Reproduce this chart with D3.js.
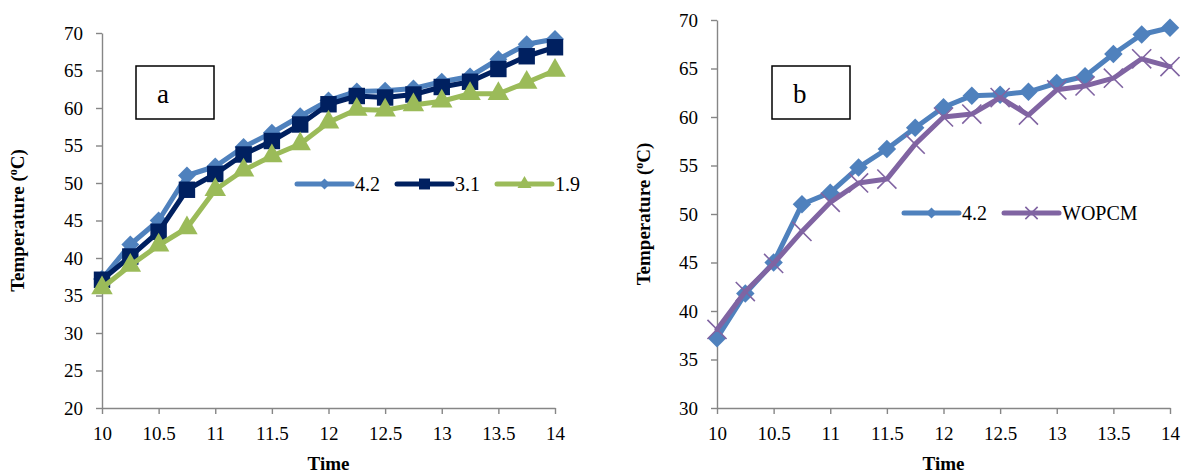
<!DOCTYPE html>
<html>
<head>
<meta charset="utf-8">
<script src="https://cdn.jsdelivr.net/npm/d3@7"></script>
<style>
  html, body { margin: 0; padding: 0; background: #fff; }
  svg { display: block; }
  svg text { font-family: "Liberation Serif", "Times New Roman", serif !important; fill: #000; }
</style>
</head>
<body>
<svg id="chart" width="1184" height="473"></svg>
<script>
// ---- data ----
const times = [10, 10.25, 10.5, 10.75, 11, 11.25, 11.5, 11.75, 12, 12.25, 12.5, 12.75, 13, 13.25, 13.5, 13.75, 14];
const s42 = [37.2, 41.8, 45.0, 51.0, 52.2, 54.8, 56.7, 58.9, 61.0, 62.2, 62.3, 62.6, 63.5, 64.2, 66.5, 68.5, 69.2];
const s31 = [37.1, 40.2, 43.5, 49.1, 51.2, 53.8, 55.6, 57.8, 60.5, 61.6, 61.4, 61.8, 62.8, 63.5, 65.2, 66.9, 68.1];
const s19 = [36.0, 39.0, 41.7, 44.0, 49.1, 51.7, 53.6, 55.2, 58.1, 59.8, 59.7, 60.4, 60.9, 61.9, 61.9, 63.4, 65.0];
const sWO = [38.1, 42.0, 44.9, 48.2, 51.2, 53.2, 53.6, 57.2, 60.0, 60.3, 62.0, 60.2, 62.8, 63.2, 64.0, 66.0, 65.2];
const xTicks = [10, 10.5, 11, 11.5, 12, 12.5, 13, 13.5, 14];
const yTicksA = [20, 25, 30, 35, 40, 45, 50, 55, 60, 65, 70];
const yTicksB = [30, 35, 40, 45, 50, 55, 60, 65, 70];
const namesA = ["4.2", "3.1", "1.9"];
const namesB = ["4.2", "WOPCM"];
const xTitle = "Time";
const yTitle = "Temperature (";

const FONT = '"Liberation Serif", "Times New Roman", serif';
const svg = d3.select("#chart");
const AXIS = "#868686";
const C42 = "#4F81BD", C31 = "#002060", C19 = "#9BBB59", CWO = "#8064A2";

const diamond = s => d3.symbol().type(d3.symbolSquare).size(s)();
const sym = (t, s) => d3.symbol().type(t).size(s)();

function panel(cfg) {
  const g = svg.append("g").style("font-family", FONT);
  const x = d3.scaleLinear().domain([10, 14]).range(cfg.xr);
  const y = d3.scaleLinear().domain(cfg.yd).range(cfg.yr);

  const xa = g.append("g").attr("transform", `translate(0,${cfg.yr[0]})`)
    .call(d3.axisBottom(x).tickValues(xTicks).tickSize(6).tickSizeOuter(0).tickPadding(13).tickFormat(d => String(d)));
  const ya = g.append("g").attr("transform", `translate(${cfg.xr[0]},0)`)
    .call(d3.axisLeft(y).tickValues(cfg.yt).tickSize(6).tickSizeOuter(0).tickPadding(13).tickFormat(d => String(d)));
  [xa, ya].forEach(a => {
    a.attr("font-family", null).style("font-family", FONT);
    a.select(".domain").attr("stroke", AXIS).attr("stroke-width", 1.4);
    a.selectAll(".tick line").attr("stroke", AXIS).attr("stroke-width", 1.4);
    a.selectAll(".tick text").style("font-family", FONT).style("font-size", "19px").attr("fill", "#000");
  });

  // titles
  g.append("text").attr("x", (cfg.xr[0] + cfg.xr[1]) / 2).attr("y", 470)
    .attr("text-anchor", "middle").style("font-size", "19px").style("font-weight", "bold").text(xTitle);
  const yt = g.append("text")
    .attr("transform", `translate(${cfg.ytx},${(cfg.yr[0] + cfg.yr[1]) / 2}) rotate(-90)`)
    .attr("text-anchor", "middle").style("font-size", "19px").style("font-weight", "bold");
  yt.append("tspan").text(yTitle);
  yt.append("tspan").style("font-size", "12px").attr("dy", -7).text("o");
  yt.append("tspan").attr("dy", 7).text("C)");

  // label box
  g.append("rect").attr("x", cfg.box[0]).attr("y", 66).attr("width", 78).attr("height", 53)
    .attr("fill", "#fff").attr("stroke", "#000").attr("stroke-width", 1.5);
  g.append("text").attr("x", cfg.box[0] + 21).attr("y", 103).style("font-size", "27px").text(cfg.letter);

  const line = d3.line().x((d, i) => x(times[i])).y(d => y(d));
  cfg.series.forEach(s => {
    g.append("path").datum(s.values).attr("d", line)
      .attr("fill", "none").attr("stroke", s.color).attr("stroke-width", 5)
      .attr("stroke-linejoin", "round").attr("stroke-linecap", "round");
    g.selectAll(null).data(s.values).enter().append("path")
      .attr("transform", (d, i) => `translate(${x(times[i])},${y(d)})` + (s.rot ? " rotate(45)" : ""))
      .attr("d", s.path)
      .attr("fill", s.stroke ? "none" : s.color)
      .attr("stroke", s.color).attr("stroke-width", s.stroke ? 1.6 : 0);
  });

  // legend
  cfg.series.forEach((s, k) => {
    const lx = cfg.leg[k], ly = cfg.legY;
    g.append("line").attr("x1", lx).attr("x2", lx + 55).attr("y1", ly).attr("y2", ly)
      .attr("stroke", s.color).attr("stroke-width", 5).attr("stroke-linecap", "round");
    g.append("path").attr("transform", `translate(${lx + 27.5},${ly})` + (s.rot ? " rotate(45)" : ""))
      .attr("d", s.lpath)
      .attr("fill", s.stroke ? "none" : s.color)
      .attr("stroke", s.color).attr("stroke-width", s.stroke ? 1.6 : 0);
    g.append("text").attr("x", lx + 58).attr("y", ly + 7).style("font-size", "20px").text(s.name);
  });
}

panel({
  xr: [102, 555], yd: [20, 70], yr: [408, 33], yt: yTicksA, ytx: 24,
  box: [136, 0], letter: "a", leg: [297, 397, 497], legY: 184,
  series: [
    { name: namesA[0], values: s42, color: C42, path: diamond(160), lpath: diamond(60), rot: true },
    { name: namesA[1], values: s31, color: C31, path: sym(d3.symbolSquare, 270), lpath: sym(d3.symbolSquare, 120) },
    { name: namesA[2], values: s19, color: C19, path: sym(d3.symbolTriangle, 200), lpath: sym(d3.symbolTriangle, 85) }
  ]
});
panel({
  xr: [717, 1170], yd: [30, 70], yr: [408, 20], yt: yTicksB, ytx: 650,
  box: [772, 0], letter: "b", leg: [904, 1004], legY: 213,
  series: [
    { name: namesB[0], values: s42, color: C42, path: diamond(170), lpath: diamond(60), rot: true },
    { name: namesB[1], values: sWO, color: CWO, path: sym(d3.symbolTimes, 240), lpath: sym(d3.symbolTimes, 100), stroke: true }
  ]
});
</script>
</body>
</html>
